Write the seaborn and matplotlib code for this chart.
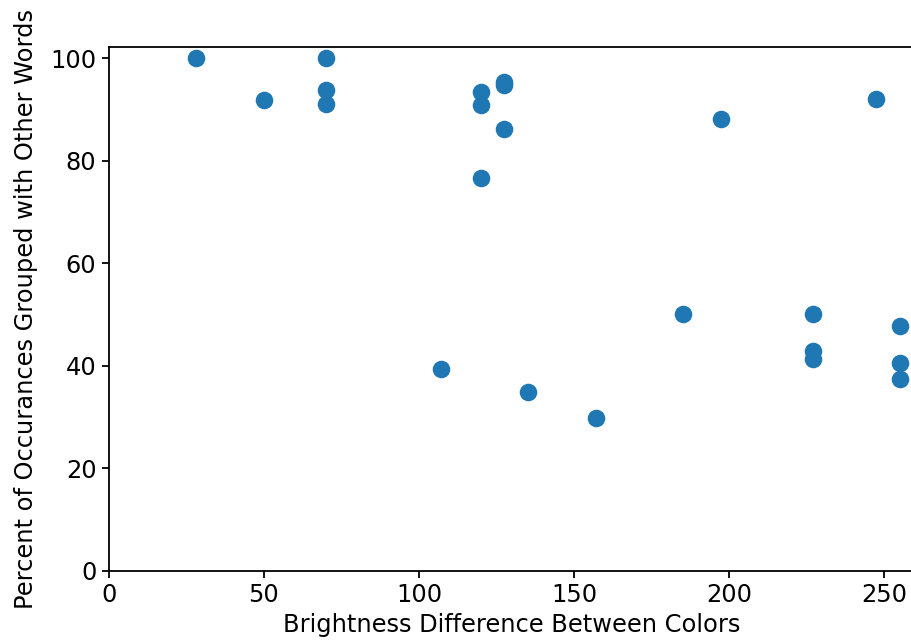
import matplotlib
matplotlib.use("Agg")
import matplotlib.pyplot as plt
import seaborn as sns
import pandas as pd

# Brightness difference between the two colours and share of occurrences
brightness_diff = [28, 50, 70, 70, 70, 107, 120, 120, 120, 127.5, 127.5, 127.5,
                   135, 157, 185, 197.5, 227, 227, 227, 247.5, 255, 255, 255]
percent_grouped = [100, 91.8, 100, 93.8, 91.2, 39.4, 93.4, 90.9, 76.7, 95.5, 94.8, 86.2,
                   34.9, 29.8, 50.0, 88.1, 50.0, 42.8, 41.4, 92.0, 47.8, 40.5, 37.4]

df = pd.DataFrame({"diff": brightness_diff, "pct": percent_grouped})

plt.rcParams["font.family"] = ["DejaVu Sans"]
fs = 17.4

fig = plt.figure(figsize=(9.12, 6.43), dpi=100)
ax = fig.add_axes([109 / 912, (643 - 570.5) / 643, 806 / 912, (570.5 - 46.7) / 643])

sns.scatterplot(data=df, x="diff", y="pct", ax=ax, s=160, color="#1f77b4",
                linewidth=0, legend=False)

ax.set_xlim(0, 260.0)
ax.set_ylim(0, 102.3)
ax.set_xticks([0, 50, 100, 150, 200, 250])
ax.set_yticks([0, 20, 40, 60, 80, 100])
ax.tick_params(axis="both", length=5, width=1.3, labelsize=fs, pad=4)
for sp in ax.spines.values():
    sp.set_linewidth(1.3)

ax.set_xlabel("Brightness Difference Between Colors", fontsize=fs, labelpad=4)
ax.set_ylabel("Percent of Occurances Grouped with Other Words", fontsize=fs, labelpad=9)

fig.savefig("out.png", dpi=100)
